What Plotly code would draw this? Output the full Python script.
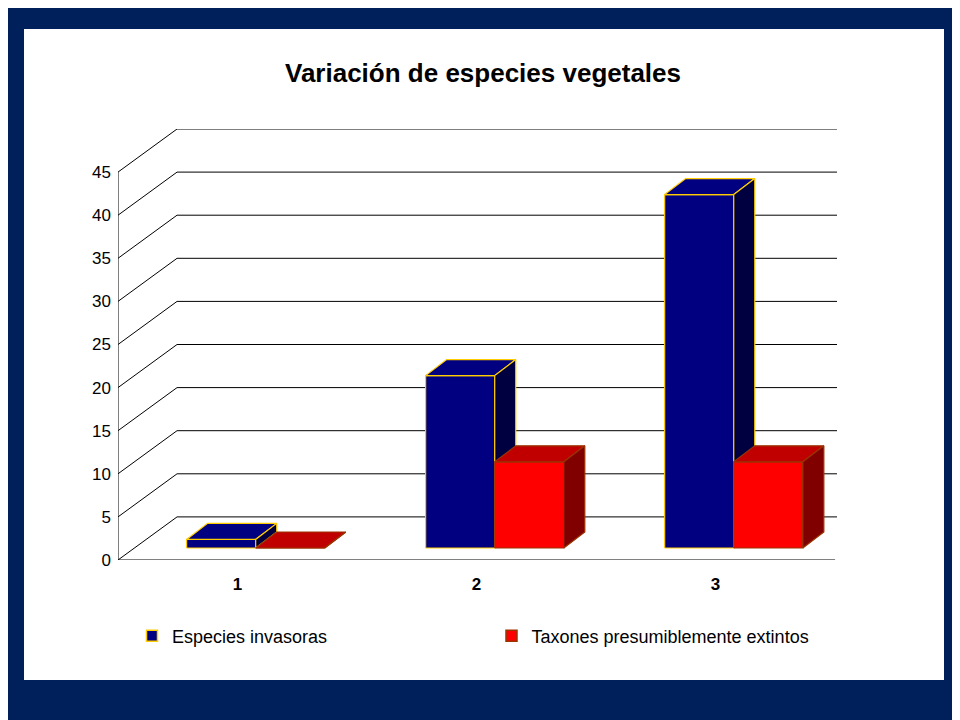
import plotly.graph_objects as go

categories = ["1", "2", "3"]
invasoras = [1, 20, 41]
extintos = [0, 10, 10]
series_names = ["Especies invasoras", "Taxones presumiblemente extintos"]
y_ticks = [0, 5, 10, 15, 20, 25, 30, 35, 40, 45]

# 3D geometry (data units)
DX, DY = 0.247, 5.0          # full depth of floor/walls
PX, PY = 0.069, 1.39         # bar front plane offset
BDX, BDY = 0.088, 1.86       # bar depth
XMIN, XMAX = 0.5, 3.508

fig = go.Figure()

gx, gy = [], []
for v in y_ticks:
    gx += [XMIN, XMIN + DX, XMAX, None]
    gy += [v, v + DY, v + DY, None]
gx += [XMIN, XMIN, None, XMIN, 3.5, None]
gy += [0, 45, None, 0, 0, None]
for b in [0.5, 1.5, 2.5, 3.5]:
    gx += [b, b, None]
    gy += [0, -0.75, None]
for v in y_ticks:
    gx += [XMIN, XMIN - 0.02, None]
    gy += [v, v, None]
fig.add_trace(go.Scatter(x=gx, y=gy, mode="lines", line=dict(color="#000000", width=1),
                         hoverinfo="skip", showlegend=False))

def bar3d(xc, x0off, w, v, front, top, side, edge):
    x0 = xc + x0off + PX
    x1 = x0 + w
    b = PY
    t = b + v
    polys = [
        ([x0, x1, x1, x0, x0], [b, b, t, t, b], front),
        ([x0, x1, x1 + BDX, x0 + BDX, x0], [t, t, t + BDY, t + BDY, t], top),
        ([x1, x1 + BDX, x1 + BDX, x1, x1], [b, b + BDY, t + BDY, t, b], side),
    ]
    for xs, ys, c in polys:
        fig.add_trace(go.Scatter(x=xs, y=ys, mode="lines", fill="toself", fillcolor=c,
                                 line=dict(color=edge, width=1.2), hoverinfo="skip",
                                 showlegend=False))

W = 0.289
for i, c in enumerate(categories):
    xc = i + 1
    bar3d(xc, -0.213 - PX, W, invasoras[i], "#000080", "#000080", "#000040", "#FFCC00")
    bar3d(xc, -0.213 - PX + W, W, extintos[i], "#FF0000", "#C00000", "#800000", "#993300")

fig.add_trace(go.Scatter(x=[None], y=[None], mode="markers", name=series_names[0],
                         marker=dict(symbol="square", size=11, color="#000080",
                                     line=dict(color="#FFCC00", width=1.5))))
fig.add_trace(go.Scatter(x=[None], y=[None], mode="markers", name=series_names[1],
                         marker=dict(symbol="square", size=11, color="#FF0000",
                                     line=dict(color="#993300", width=1.5))))

L, T = 110, 121
fig.update_layout(
    width=960, height=720,
    margin=dict(l=L, r=960 - L - 719, t=T, b=720 - T - 431, autoexpand=False),
    paper_bgcolor="#00205B", plot_bgcolor="rgba(0,0,0,0)",
    font=dict(family="Liberation Sans, Arial", color="#000000", size=17),
    title=dict(text="<b>Variación de especies vegetales</b>", x=475/960, xanchor="center",
               y=1-65/720, yanchor="middle", font=dict(size=26, color="#000000")),
    xaxis=dict(range=[XMIN, XMAX], tickvals=[1, 2, 3], ticktext=["<b>%s</b>" % c for c in categories],
               showgrid=False, zeroline=False, showline=False, ticks="", ticklabelstandoff=12,
               tickfont=dict(size=17)),
    yaxis=dict(range=[0, 50], tickvals=y_ticks, showgrid=False, zeroline=False, showline=False,
               ticks="", ticklabelstandoff=6, tickfont=dict(size=17)),
    showlegend=True,
    legend=dict(orientation="h", x=(124-110)/719, xanchor="left", y=-76/431, yanchor="middle",
                entrywidth=0.5, entrywidthmode="fraction", font=dict(size=18),
                bgcolor="rgba(0,0,0,0)"),
    shapes=[dict(type="rect", xref="paper", yref="paper", layer="below",
                 x0=(16-L)/719, x1=(936-L)/719, y0=(552-672)/431, y1=(552-21)/431,
                 fillcolor="#FFFFFF", line=dict(width=0))],
)

fig.write_html("out.html")
